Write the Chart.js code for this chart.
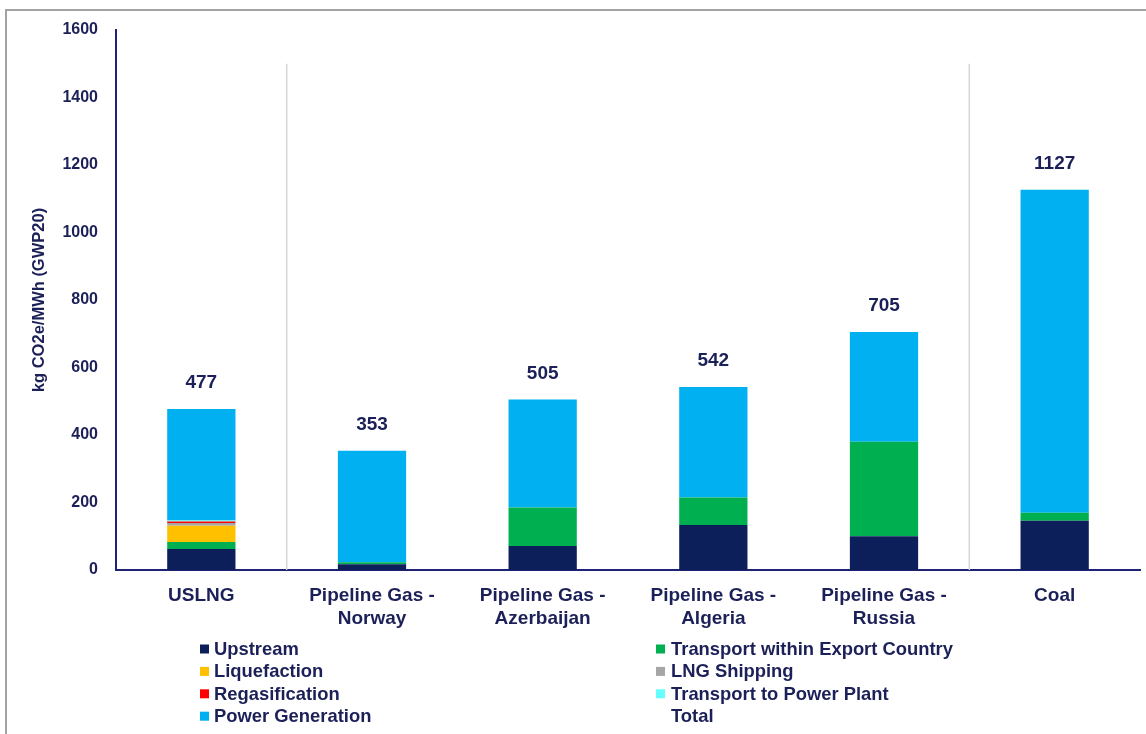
<!DOCTYPE html>
<html>
<head>
<meta charset="utf-8">
<script src="https://cdn.jsdelivr.net/npm/chart.js@4/dist/chart.umd.min.js"></script>
<style>
  html, body { margin: 0; padding: 0; background: #ffffff; }
  #wrap { position: relative; width: 1146px; height: 734px; overflow: hidden; }
  #wrap canvas { position: absolute; left: 0; top: 0; }
  #frame {
    position: absolute; left: 5px; top: 9px; right: -4px; bottom: -4px;
    border-top: 2px solid #a3a3a3; border-left: 2px solid #a3a3a3;
    pointer-events: none;
  }
</style>
</head>
<body>
<div id="wrap">
  <canvas id="chart" width="1146" height="734"></canvas>
  <div id="frame"></div>
</div>
<script>
// Life-cycle emissions per MWh, split by supply-chain stage
const categories = [
  'USLNG',
  ['Pipeline Gas -', 'Norway'],
  ['Pipeline Gas -', 'Azerbaijan'],
  ['Pipeline Gas -', 'Algeria'],
  ['Pipeline Gas -', 'Russia'],
  'Coal'
];

const upstream            = [62, 17, 71, 133, 100, 146];
const transportExport     = [21, 6, 114, 82, 280, 24];
const liquefaction        = [48, 0, 0, 0, 0, 0];
const lngShipping         = [8, 0, 0, 0, 0, 0];
const regasification      = [5, 0, 0, 0, 0, 0];
const transportPowerPlant = [3, 0, 0, 0, 0, 0];
const powerGeneration     = [330, 330, 320, 327, 325, 957];
const totals              = [477, 353, 505, 542, 705, 1127];

const yTicks = [0, 200, 400, 600, 800, 1000, 1200, 1400, 1600];

const TEXT = '#1c2058';
const AXIS = '#1f2376';
const FONT = "'Liberation Sans', Arial, sans-serif";

const series = [
  { label: 'Upstream',                        data: upstream,            color: '#0c1f5b' },
  { label: 'Transport within Export Country', data: transportExport,     color: '#00b050' },
  { label: 'Liquefaction',                    data: liquefaction,        color: '#ffc000' },
  { label: 'LNG Shipping',                    data: lngShipping,         color: '#a6a6a6' },
  { label: 'Regasification',                  data: regasification,      color: '#ff0000' },
  { label: 'Transport to Power Plant',        data: transportPowerPlant, color: '#66ffff' },
  { label: 'Power Generation',                data: powerGeneration,     color: '#00b0f0' }
];

// Thin grey dividers separating LNG, pipeline gas and coal groups
const dividerPlugin = {
  id: 'dividers',
  beforeDatasetsDraw(chart) {
    const { ctx, scales: { x, y } } = chart;
    const boundaries = [0.5, 4.5];
    ctx.save();
    ctx.strokeStyle = '#d6d6d6';
    ctx.lineWidth = 1.5;
    boundaries.forEach(b => {
      const px = (x.getPixelForValue(Math.floor(b)) + x.getPixelForValue(Math.ceil(b))) / 2;
      ctx.beginPath();
      ctx.moveTo(px, y.getPixelForValue(1500));
      ctx.lineTo(px, y.getPixelForValue(0));
      ctx.stroke();
    });
    ctx.restore();
  }
};

// Total value printed above each stacked bar
const totalsPlugin = {
  id: 'totals',
  afterDatasetsDraw(chart) {
    const { ctx, scales: { x, y } } = chart;
    ctx.save();
    ctx.fillStyle = TEXT;
    ctx.font = `bold 19px ${FONT}`;
    ctx.textAlign = 'center';
    ctx.textBaseline = 'middle';
    totals.forEach((t, i) => {
      ctx.fillText(String(t), x.getPixelForValue(i), y.getPixelForValue(t) - 26);
    });
    ctx.restore();
  }
};

// Two-column legend below the axis
const legendPlugin = {
  id: 'twoColLegend',
  afterDraw(chart) {
    const { ctx } = chart;
    const items = chart.data.datasets.map(d => ({ text: d.label, color: d.backgroundColor }));
    items.push({ text: 'Total', color: null });
    const cols = [{ marker: 200, text: 214 }, { marker: 656, text: 671 }];
    ctx.save();
    ctx.font = `bold 18.4px ${FONT}`;
    ctx.textBaseline = 'middle';
    ctx.textAlign = 'left';
    items.forEach((it, i) => {
      const c = cols[i % 2];
      const yy = 649 + Math.floor(i / 2) * 22.4;
      if (it.color) {
        ctx.fillStyle = it.color;
        ctx.fillRect(c.marker, yy - 4.5, 9, 9);
      }
      ctx.fillStyle = TEXT;
      ctx.fillText(it.text, c.text, yy + 1);
    });
    ctx.restore();
  }
};

new Chart(document.getElementById('chart'), {
  type: 'bar',
  data: {
    labels: categories,
    datasets: series.map(s => ({
      label: s.label,
      data: s.data,
      backgroundColor: s.color,
      borderWidth: 0,
      barPercentage: 0.4,
      categoryPercentage: 1.0
    }))
  },
  options: {
    responsive: false,
    animation: false,
    devicePixelRatio: 1,
    layout: { padding: { left: 0, right: 6, top: 30, bottom: 0 } },
    plugins: {
      legend: { display: false },
      tooltip: { enabled: false },
      title: { display: false }
    },
    scales: {
      x: {
        stacked: true,
        grid: { display: false },
        border: { display: true, color: AXIS, width: 2 },
        ticks: {
          color: TEXT,
          font: { family: FONT, size: 19, weight: 'bold', lineHeight: 1.22 },
          padding: 6,
          maxRotation: 0,
          autoSkip: false
        },
        afterFit(scale) { scale.height = 164; }
      },
      y: {
        stacked: true,
        min: 0,
        max: 1600,
        afterBuildTicks(scale) { scale.ticks = yTicks.map(v => ({ value: v })); },
        grid: { display: false, drawTicks: false },
        border: { display: true, color: AXIS, width: 2 },
        ticks: {
          color: TEXT,
          font: { family: FONT, size: 16, weight: 'bold' },
          padding: 18,
          callback: v => String(v)
        },
        title: {
          display: true,
          text: 'kg CO2e/MWh (GWP20)',
          color: TEXT,
          font: { family: FONT, size: 16.5, weight: 'bold' },
          padding: { top: 30, bottom: 0 }
        },
        afterFit(scale) { scale.width = 116; }
      }
    }
  },
  plugins: [dividerPlugin, totalsPlugin, legendPlugin]
});
</script>
</body>
</html>
